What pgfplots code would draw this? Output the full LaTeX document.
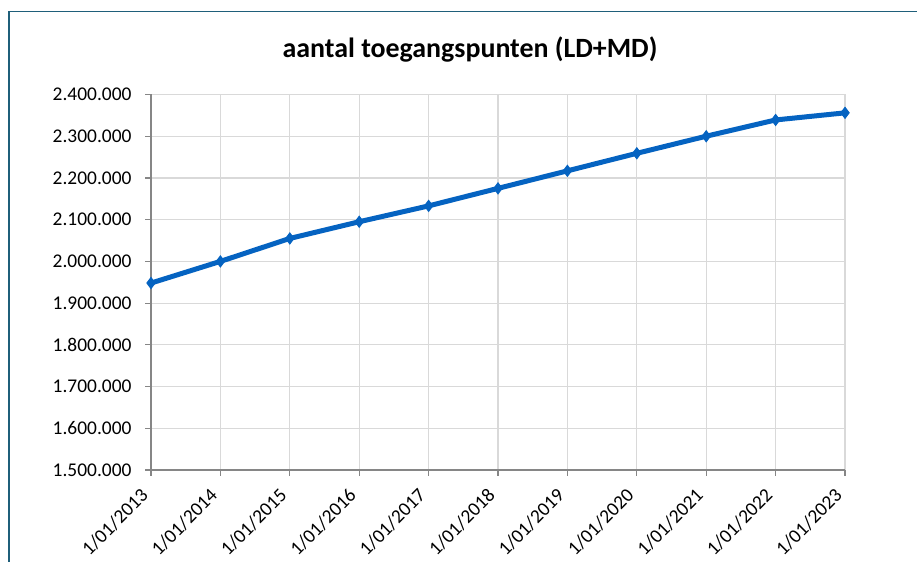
\documentclass[border=0pt]{standalone}
\usepackage{pgfplots}
\pgfplotsset{compat=1.18}
\usepackage{fontspec}
\setmainfont{Carlito}
\definecolor{lineblue}{HTML}{0563C1}
\definecolor{framec}{HTML}{1F5F7A}
\definecolor{gridc}{HTML}{D9D9D9}
\definecolor{axisc}{HTML}{868686}
\begin{document}
\begin{tikzpicture}[x=1bp,y=1bp]
\useasboundingbox (0,0) rectangle (917,562);
\begin{scope}
\clip (0,0) rectangle (917,562);
\draw[framec,line width=1.6bp] (9,-10) -- (9,550.3) -- (930,550.3);
\end{scope}
\node[font=\fontsize{28}{32}\selectfont\bfseries] at (470,512) {aantal toegangspunten (LD+MD)};
\begin{axis}[
  at={(151bp,92bp)}, anchor=south west,
  scale only axis, width=694bp, height=375.5bp,
  xmin=0, xmax=10, ymin=1500000, ymax=2400000,
  xtick={0,...,10},
  xticklabels={1/01/2013,1/01/2014,1/01/2015,1/01/2016,1/01/2017,1/01/2018,1/01/2019,1/01/2020,1/01/2021,1/01/2022,1/01/2023},
  ytick={1500000,1600000,...,2400000},
  yticklabel={\pgfmathprintnumber[fixed,1000 sep={.},precision=0,assume math mode=true]{\tick}},
  scaled y ticks=false,
  grid=major,
  major grid style={gridc,line width=1.2bp},
  axis x line*=bottom, axis y line*=left,
  axis line style={axisc,line width=1.2bp},
  tick style={axisc,line width=1.2bp},
  tick align=outside,
  major tick length=6bp,
  x axis line style={-}, y axis line style={-},
  ticklabel style={font=\fontsize{19.5}{21}\selectfont, text=black},
  yticklabel style={xshift=-10bp},
  xticklabel style={xshift=-4bp, yshift=-14bp, rotate=45, anchor=east},
  clip=false,
]
\addplot[lineblue, line width=5bp, mark=diamond*, mark size=5.5bp, mark options={fill=lineblue, line width=1bp}]
coordinates {
(0,1948000) (1,2000000) (2,2055000) (3,2095000) (4,2133000) (5,2175000)
(6,2217000) (7,2259000) (8,2300000) (9,2339000) (10,2356000)
};
\end{axis}
\end{tikzpicture}
\end{document}
